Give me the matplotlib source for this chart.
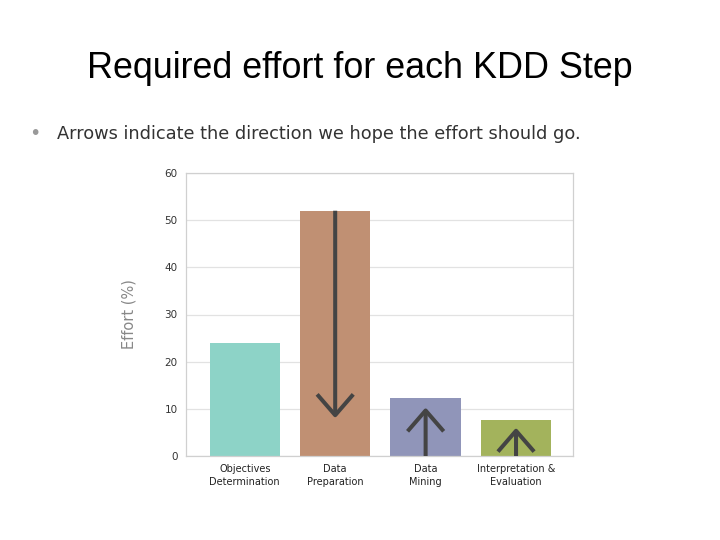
import matplotlib

matplotlib.use("Agg")
import matplotlib.pyplot as plt

# Data
steps = ["Objectives\nDetermination", "Data\nPreparation", "Data\nMining", "Interpretation &\nEvaluation"]
effort = [24.0, 52.0, 12.3, 7.6]
bar_colors = ["#8dd3c7", "#c09073", "#9095b9", "#a3b35c"]

# Arrows: (bar index, start value, end value)
arrow_bar = [1, 2, 3]
arrow_from = [52.0, 0.0, 0.0]
arrow_to = [8.0, 10.3, 6.0]

yticks = [0, 10, 20, 30, 40, 50, 60]

fig = plt.figure(figsize=(7.2, 5.4), dpi=100)
fig.patch.set_facecolor("white")

fig.text(0.5, 0.873, "Required effort for each KDD Step", ha="center", va="center",
         fontsize=25.8, color="black", family="Liberation Sans")
fig.text(0.049, 0.752, "\u2022", ha="center", va="center", fontsize=14, color="#999999")
fig.text(0.079, 0.752, "Arrows indicate the direction we hope the effort should go.",
         ha="left", va="center", fontsize=12.8, color="#333333", family="DejaVu Sans")

ax = fig.add_axes([186 / 720, 1 - 456 / 540, (573 - 186) / 720, (456 - 173) / 540])
x = list(range(len(steps)))
ax.bar(x, effort, width=0.78, color=bar_colors, zorder=2)

for i, y0, y1 in zip(arrow_bar, arrow_from, arrow_to):
    ax.annotate("", xy=(i, y1), xytext=(i, y0),
                arrowprops=dict(arrowstyle="->, head_length=0.75, head_width=0.65",
                                color="#444444", lw=2.9, shrinkA=0, shrinkB=0,
                                mutation_scale=20, capstyle="butt"),
                zorder=3)

ax.set_xlim(-0.65, 3.63)
ax.set_ylim(0, 60)
ax.set_yticks(yticks)
ax.set_yticklabels([str(t) for t in yticks], fontsize=7.5, color="#333333")
ax.set_xticks(x)
ax.set_xticklabels(steps, fontsize=7, color="#222222", linespacing=1.3)
ax.tick_params(length=0, pad=6)
ax.grid(True, axis="y", color="#e2e2e2", linewidth=0.9, zorder=0)
for s in ax.spines.values():
    s.set_color("#d0d0d0")
    s.set_linewidth(0.9)
ax.set_ylabel("Effort (%)", fontsize=10.5, color="#888888", labelpad=20)

fig.savefig("out.png", dpi=100)
